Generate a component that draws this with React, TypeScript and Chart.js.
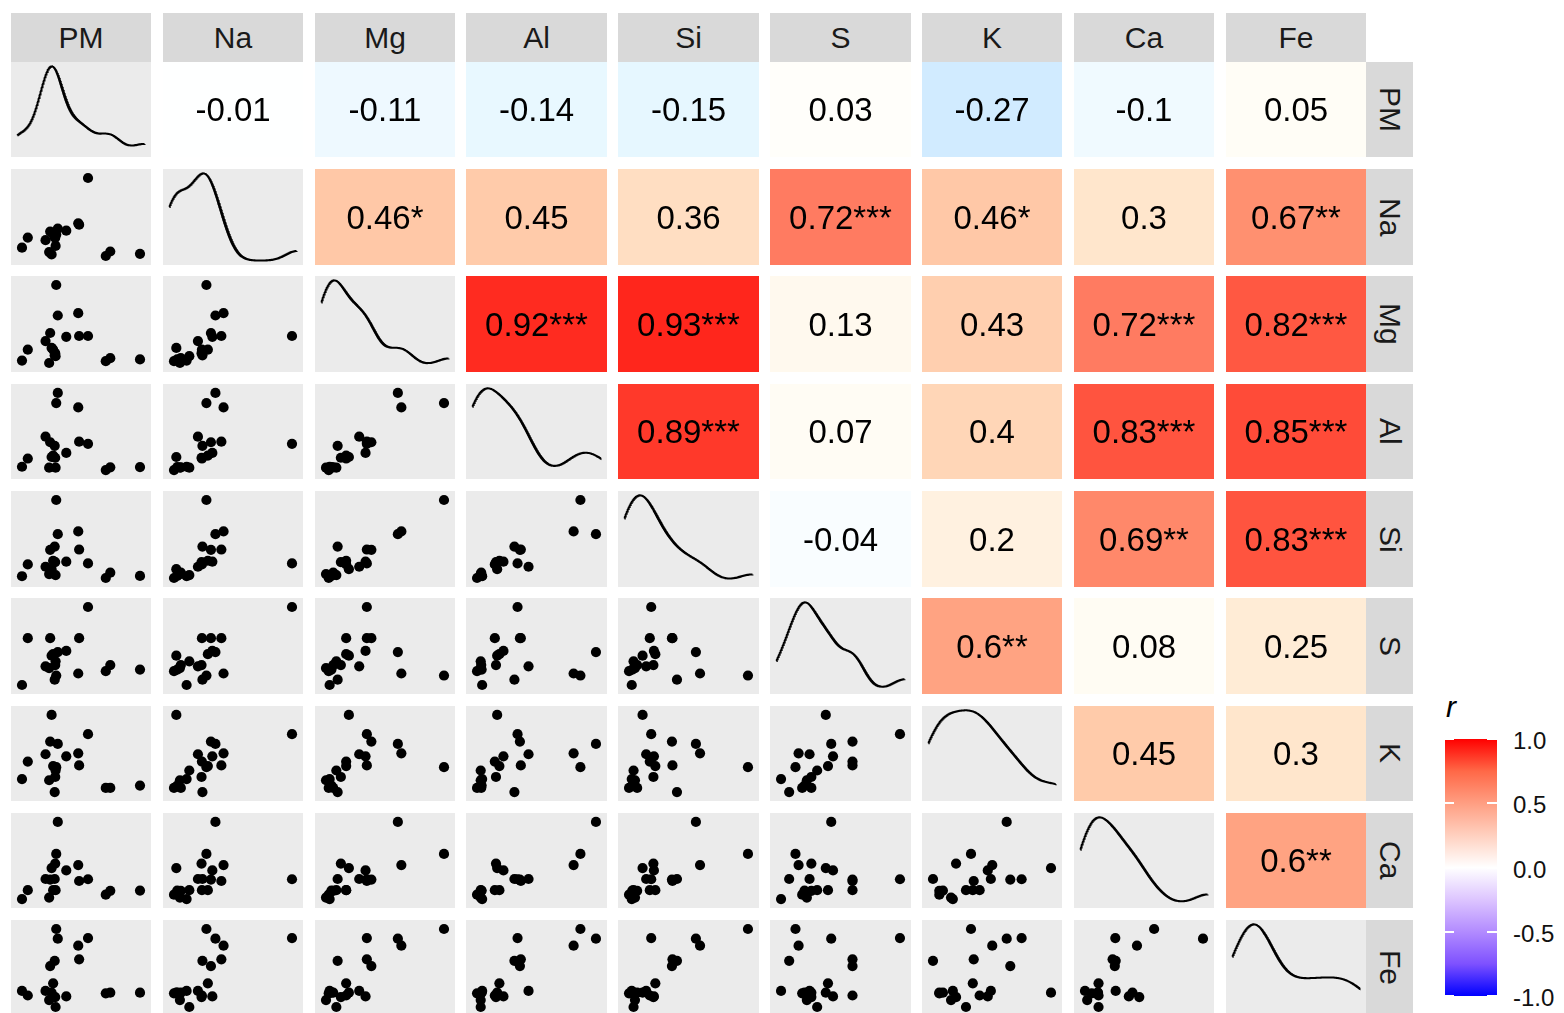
import React, { useEffect, useRef } from 'react';
import { Chart, registerables } from 'chart.js';

Chart.register(...registerables);

// ---------- data (19 samples, relative values) ----------
const VARIABLES = ['PM', 'Na', 'Mg', 'Al', 'Si', 'S', 'K', 'Ca', 'Fe'];

const PM = [55.1, 47.5, 48.2, 38.2, 31.6, 30.4, 25.7, 22.1, 8.3, 3.8, 29.9, 24.9, 26.8, 68.9, 72.4, 95.5, 28.0, 29.2, 29.6];
const NA = [96.2, 43.0, 41.3, 34.3, 36.7, 29.7, 33.2, 23.1, 26.2, 14.3, 16.4, 9.1, 6.3, 4.5, 9.8, 7.0, 30.8, 26.6, 25.9];
const MG = [36.1, 62.8, 36.1, 35.1, 60.1, 95.8, 39.6, 30.2, 20.1, 7.3, 12.5, 4.5, 22.2, 6.6, 10.1, 8.7, 20.1, 13.5, 16.0];
const AL = [35.5, 78.4, 38.0, 24.7, 95.5, 83.6, 37.3, 43.9, 18.1, 8.4, 7.3, 7.3, 19.9, 4.5, 7.7, 8.0, 21.6, 33.1, 19.0];
const SI = [20.7, 58.6, 37.2, 22.8, 55.4, 95.8, 36.8, 16.8, 19.6, 5.6, 7.0, 8.1, 14.0, 3.5, 9.8, 6.0, 23.9, 40.7, 22.4];
const S = [95.4, 16.8, 58.6, 43.5, 42.1, 14.4, 58.6, 25.3, 58.6, 3.2, 31.2, 23.2, 37.9, 19.6, 26.7, 21.4, 39.6, 9.5, 26.7];
const K = [73.0, 50.2, 35.8, 46.7, 61.4, 33.7, 64.2, 49.1, 40.4, 19.6, 29.8, 18.2, 95.8, 9.1, 9.1, 11.9, 35.1, 4.2, 22.1];
const CA = [27.4, 44.2, 25.3, 37.9, 95.4, 57.5, 27.0, 27.7, 14.4, 3.9, 14.4, 5.6, 40.7, 9.1, 13.7, 14.0, 14.4, 27.7, 46.0];
const FE = [84.9, 76.1, 60.4, 17.5, 84.2, 95.4, 52.6, 23.9, 18.6, 23.9, 5.3, 13.3, 21.8, 21.1, 21.8, 21.8, 32.6, 58.6, 16.8];

const SERIES = [PM, NA, MG, AL, SI, S, K, CA, FE];

// correlation coefficients shown in the upper triangle (row variable vs later columns)
const R_PM = [-0.01, -0.11, -0.14, -0.15, 0.03, -0.27, -0.1, 0.05];
const R_NA = [0.46, 0.45, 0.36, 0.72, 0.46, 0.3, 0.67];
const R_MG = [0.92, 0.93, 0.13, 0.43, 0.72, 0.82];
const R_AL = [0.89, 0.07, 0.4, 0.83, 0.85];
const R_SI = [-0.04, 0.2, 0.69, 0.83];
const R_S = [0.6, 0.08, 0.25];
const R_K = [0.45, 0.3];
const R_CA = [0.6];
const R_ROWS = [R_PM, R_NA, R_MG, R_AL, R_SI, R_S, R_K, R_CA];

const STARS_PM = ['', '', '', '', '', '', '', ''];
const STARS_NA = ['*', '', '', '***', '*', '', '**'];
const STARS_MG = ['***', '***', '', '', '***', '***'];
const STARS_AL = ['***', '', '', '***', '***'];
const STARS_SI = ['', '', '**', '***'];
const STARS_S = ['**', '', ''];
const STARS_K = ['', ''];
const STARS_CA = ['**'];
const STAR_ROWS = [STARS_PM, STARS_NA, STARS_MG, STARS_AL, STARS_SI, STARS_S, STARS_K, STARS_CA];

// colour ramp of the correlation cells
const CELL_STOP_R = [-1, -0.27, -0.15, -0.1, 0, 0.05, 0.13, 0.3, 0.36, 0.45, 0.67, 0.72, 0.82, 0.92, 1];
const CELL_STOP_C = ['#8FCBFF', '#D1EBFF', '#E6F7FF', '#F0FAFF', '#FFFFFF', '#FFFDF6', '#FFF9EE', '#FFE6CC', '#FFDEC2', '#FFCBAA', '#FF9070', '#FF7B61', '#FF5842', '#FF2B20', '#FF0000'];

// legend
const LEGEND_TICKS = [1.0, 0.5, 0.0, -0.5, -1.0];
const LEGEND_STOPS = ['#FF0000', '#FF6847', '#FF9E82', '#FFD0BF', '#FFFFFF', '#DDC5FF', '#B28BFF', '#7E51FF', '#0000FF'];

// ---------- layout ----------
const FONT = '"Liberation Sans", Arial, Helvetica, sans-serif';
const X0 = 10.7;
const PITCH_X = 151.9;
const PW = 140.3;
const Y0 = 61.7;
const PITCH_Y = 107.3;
const PH = 95.6;
const STRIP_TOP = 13.3;

const colLeft = (j: number) => Math.round(X0 + j * PITCH_X);
const colRight = (j: number) => Math.round(X0 + j * PITCH_X + PW);
const rowTop = (i: number) => Math.round(Y0 + i * PITCH_Y);
const rowBottom = (i: number) => Math.round(Y0 + i * PITCH_Y + PH);

// ---------- helpers ----------
function hexToRgb(h: string) {
  const v = parseInt(h.slice(1), 16);
  return [(v >> 16) & 255, (v >> 8) & 255, v & 255];
}

function cellColor(r: number) {
  for (let k = 0; k < CELL_STOP_R.length - 1; k++) {
    const a = CELL_STOP_R[k];
    const b = CELL_STOP_R[k + 1];
    if (r >= a && r <= b) {
      const t = (r - a) / (b - a);
      const c1 = hexToRgb(CELL_STOP_C[k]);
      const c2 = hexToRgb(CELL_STOP_C[k + 1]);
      const c = c1.map((v, i) => Math.round(v + (c2[i] - v) * t));
      return `rgb(${c[0]},${c[1]},${c[2]})`;
    }
  }
  return '#FFFFFF';
}

function expanded(values: number[]) {
  const mn = Math.min(...values);
  const mx = Math.max(...values);
  const pad = (mx - mn) * 0.05;
  return [mn - pad, mx + pad];
}

function kde(values: number[]) {
  const n = values.length;
  const sorted = [...values].sort((a, b) => a - b);
  const mean = values.reduce((a, b) => a + b, 0) / n;
  const sd = Math.sqrt(values.reduce((a, b) => a + (b - mean) * (b - mean), 0) / (n - 1));
  const q = (p: number) => {
    const h = (n - 1) * p;
    const lo = Math.floor(h);
    const hi = Math.min(lo + 1, n - 1);
    return sorted[lo] + (h - lo) * (sorted[hi] - sorted[lo]);
  };
  const iqr = q(0.75) - q(0.25);
  let lo = Math.min(sd, iqr / 1.34);
  if (!(lo > 0)) lo = sd || 1;
  const bw = 0.9 * lo * Math.pow(n, -0.2);
  const mn = sorted[0];
  const mx = sorted[n - 1];
  const pts: { x: number; y: number }[] = [];
  const G = 512;
  for (let i = 0; i < G; i++) {
    const x = mn + ((mx - mn) * i) / (G - 1);
    let s = 0;
    for (const v of values) {
      const z = (x - v) / bw;
      s += Math.exp(-0.5 * z * z);
    }
    pts.push({ x, y: s / (n * bw * Math.sqrt(2 * Math.PI)) });
  }
  return pts;
}

const bgPlugin = (color: string) => ({
  id: 'panelBg',
  beforeDraw(chart: any) {
    const { ctx, width, height } = chart;
    ctx.save();
    ctx.fillStyle = color;
    ctx.fillRect(0, 0, width, height);
    ctx.restore();
  },
});

const labelPlugin = (text: string) => ({
  id: 'cellLabel',
  afterDraw(chart: any) {
    const { ctx, width, height } = chart;
    const size = 33;
    ctx.save();
    ctx.font = `${size}px ${FONT}`;
    ctx.fillStyle = '#000000';
    ctx.textAlign = 'center';
    ctx.textBaseline = 'alphabetic';
    ctx.fillText(text, width / 2, height / 2 + size * 0.358);
    ctx.restore();
  },
});

function baseOptions(scales: any) {
  return {
    animation: false,
    responsive: false,
    maintainAspectRatio: false,
    events: [],
    layout: { padding: 0 },
    plugins: { legend: { display: false }, tooltip: { enabled: false }, title: { display: false } },
    scales,
  };
}

function scatterConfig(xi: number, yi: number) {
  const xs = SERIES[xi];
  const ys = SERIES[yi];
  const pts = xs.map((x, k) => ({ x, y: ys[k] }));
  const [xmin, xmax] = expanded(xs);
  const [ymin, ymax] = expanded(ys);
  return {
    type: 'scatter',
    data: {
      datasets: [
        {
          data: pts,
          backgroundColor: '#000000',
          borderColor: '#000000',
          borderWidth: 0,
          pointRadius: 5.1,
          pointHoverRadius: 5.1,
          clip: false,
        },
      ],
    },
    options: baseOptions({
      x: { type: 'linear', display: false, min: xmin, max: xmax },
      y: { type: 'linear', display: false, min: ymin, max: ymax },
    }),
    plugins: [bgPlugin('#EBEBEB')],
  };
}

function densityConfig(i: number) {
  const vals = SERIES[i];
  const pts = kde(vals);
  const [xmin, xmax] = expanded(vals);
  const dmax = Math.max(...pts.map((p) => p.y));
  return {
    type: 'line',
    data: {
      datasets: [
        {
          data: pts,
          borderColor: '#000000',
          borderWidth: 2,
          pointRadius: 0,
          fill: false,
          tension: 0,
        },
      ],
    },
    options: baseOptions({
      x: { type: 'linear', display: false, min: xmin, max: xmax },
      y: { type: 'linear', display: false, min: -0.05 * dmax, max: 1.05 * dmax },
    }),
    plugins: [bgPlugin('#EBEBEB')],
  };
}

function corrConfig(i: number, j: number) {
  const r = R_ROWS[i][j - i - 1];
  const stars = STAR_ROWS[i][j - i - 1];
  return {
    type: 'bar',
    data: {
      labels: [VARIABLES[j]],
      datasets: [
        {
          data: [1],
          backgroundColor: cellColor(r),
          borderWidth: 0,
          barPercentage: 1,
          categoryPercentage: 1,
        },
      ],
    },
    options: baseOptions({
      x: { display: false },
      y: { display: false, min: 0, max: 1 },
    }),
    plugins: [labelPlugin(String(r) + stars)],
  };
}

function ChartPanel(props: { left: number; top: number; width: number; height: number; make: () => any }) {
  const ref = useRef<HTMLCanvasElement>(null);
  useEffect(() => {
    const chart = new Chart(ref.current as HTMLCanvasElement, props.make());
    return () => chart.destroy();
  }, []);
  return (
    <canvas
      ref={ref}
      width={props.width}
      height={props.height}
      style={{ position: 'absolute', left: props.left, top: props.top, width: props.width, height: props.height, display: 'block' }}
    />
  );
}

export default function App() {
  const panels: any[] = [];
  const n = VARIABLES.length;
  for (let i = 0; i < n; i++) {
    for (let j = 0; j < n; j++) {
      const left = colLeft(j);
      const top = rowTop(i);
      const width = colRight(j) - left;
      const height = rowBottom(i) - top;
      let make: () => any;
      if (i === j) make = () => densityConfig(i);
      else if (i > j) make = () => scatterConfig(j, i);
      else make = () => corrConfig(i, j);
      panels.push(<ChartPanel key={`${i}-${j}`} left={left} top={top} width={width} height={height} make={make} />);
    }
  }

  const stripTop = Math.round(STRIP_TOP);
  const stripH = rowTop(0) - stripTop;
  const rightL = colRight(n - 1);
  const rightW = 47;

  const barLeft = 1445;
  const barTop = 739;
  const barW = 52;
  const barH = 257;
  const gradient = `linear-gradient(to bottom, ${LEGEND_STOPS.map((c, k) => `${c} ${((k / (LEGEND_STOPS.length - 1)) * 100).toFixed(1)}%`).join(', ')})`;

  return (
    <div style={{ position: 'absolute', left: 0, top: 0, width: 1564, height: 1013, overflow: 'hidden', background: '#FFFFFF', fontFamily: FONT }}>
      {VARIABLES.map((v, j) => (
        <div
          key={`ts-${v}`}
          style={{
            position: 'absolute',
            left: colLeft(j),
            top: stripTop,
            width: colRight(j) - colLeft(j),
            height: stripH,
            background: '#D9D9D9',
            color: '#1A1A1A',
            fontSize: 30,
            lineHeight: `${stripH}px`,
            textAlign: 'center',
          }}
        >
          {v}
        </div>
      ))}
      {VARIABLES.map((v, i) => (
        <div
          key={`rs-${v}`}
          style={{
            position: 'absolute',
            left: rightL,
            top: rowTop(i),
            width: rightW,
            height: rowBottom(i) - rowTop(i),
            background: '#D9D9D9',
            color: '#1A1A1A',
            fontSize: 30,
            display: 'flex',
            alignItems: 'center',
            justifyContent: 'center',
          }}
        >
          <span style={{ writingMode: 'vertical-rl', lineHeight: 1 }}>{v}</span>
        </div>
      ))}
      {panels}
      <div style={{ position: 'absolute', left: 1446, top: 690, fontSize: 30, fontStyle: 'italic', color: '#000', lineHeight: '34px' }}>r</div>
      <div style={{ position: 'absolute', left: barLeft, top: barTop, width: barW, height: barH, background: gradient }} />
      {LEGEND_TICKS.map((t) => {
        const y = barTop + ((1 - t) / 2) * barH;
        return (
          <React.Fragment key={`lt-${t}`}>
            <div style={{ position: 'absolute', left: barLeft, top: y - 1, width: 9, height: 2, background: '#FFFFFF' }} />
            <div style={{ position: 'absolute', left: barLeft + barW - 10, top: y - 1, width: 10, height: 2, background: '#FFFFFF' }} />
            <div
              style={{
                position: 'absolute',
                left: 1513,
                top: y - 13 + 2,
                height: 26,
                lineHeight: '26px',
                fontSize: 24,
                color: '#111',
                whiteSpace: 'nowrap',
              }}
            >
              {t.toFixed(1)}
            </div>
          </React.Fragment>
        );
      })}
    </div>
  );
}
